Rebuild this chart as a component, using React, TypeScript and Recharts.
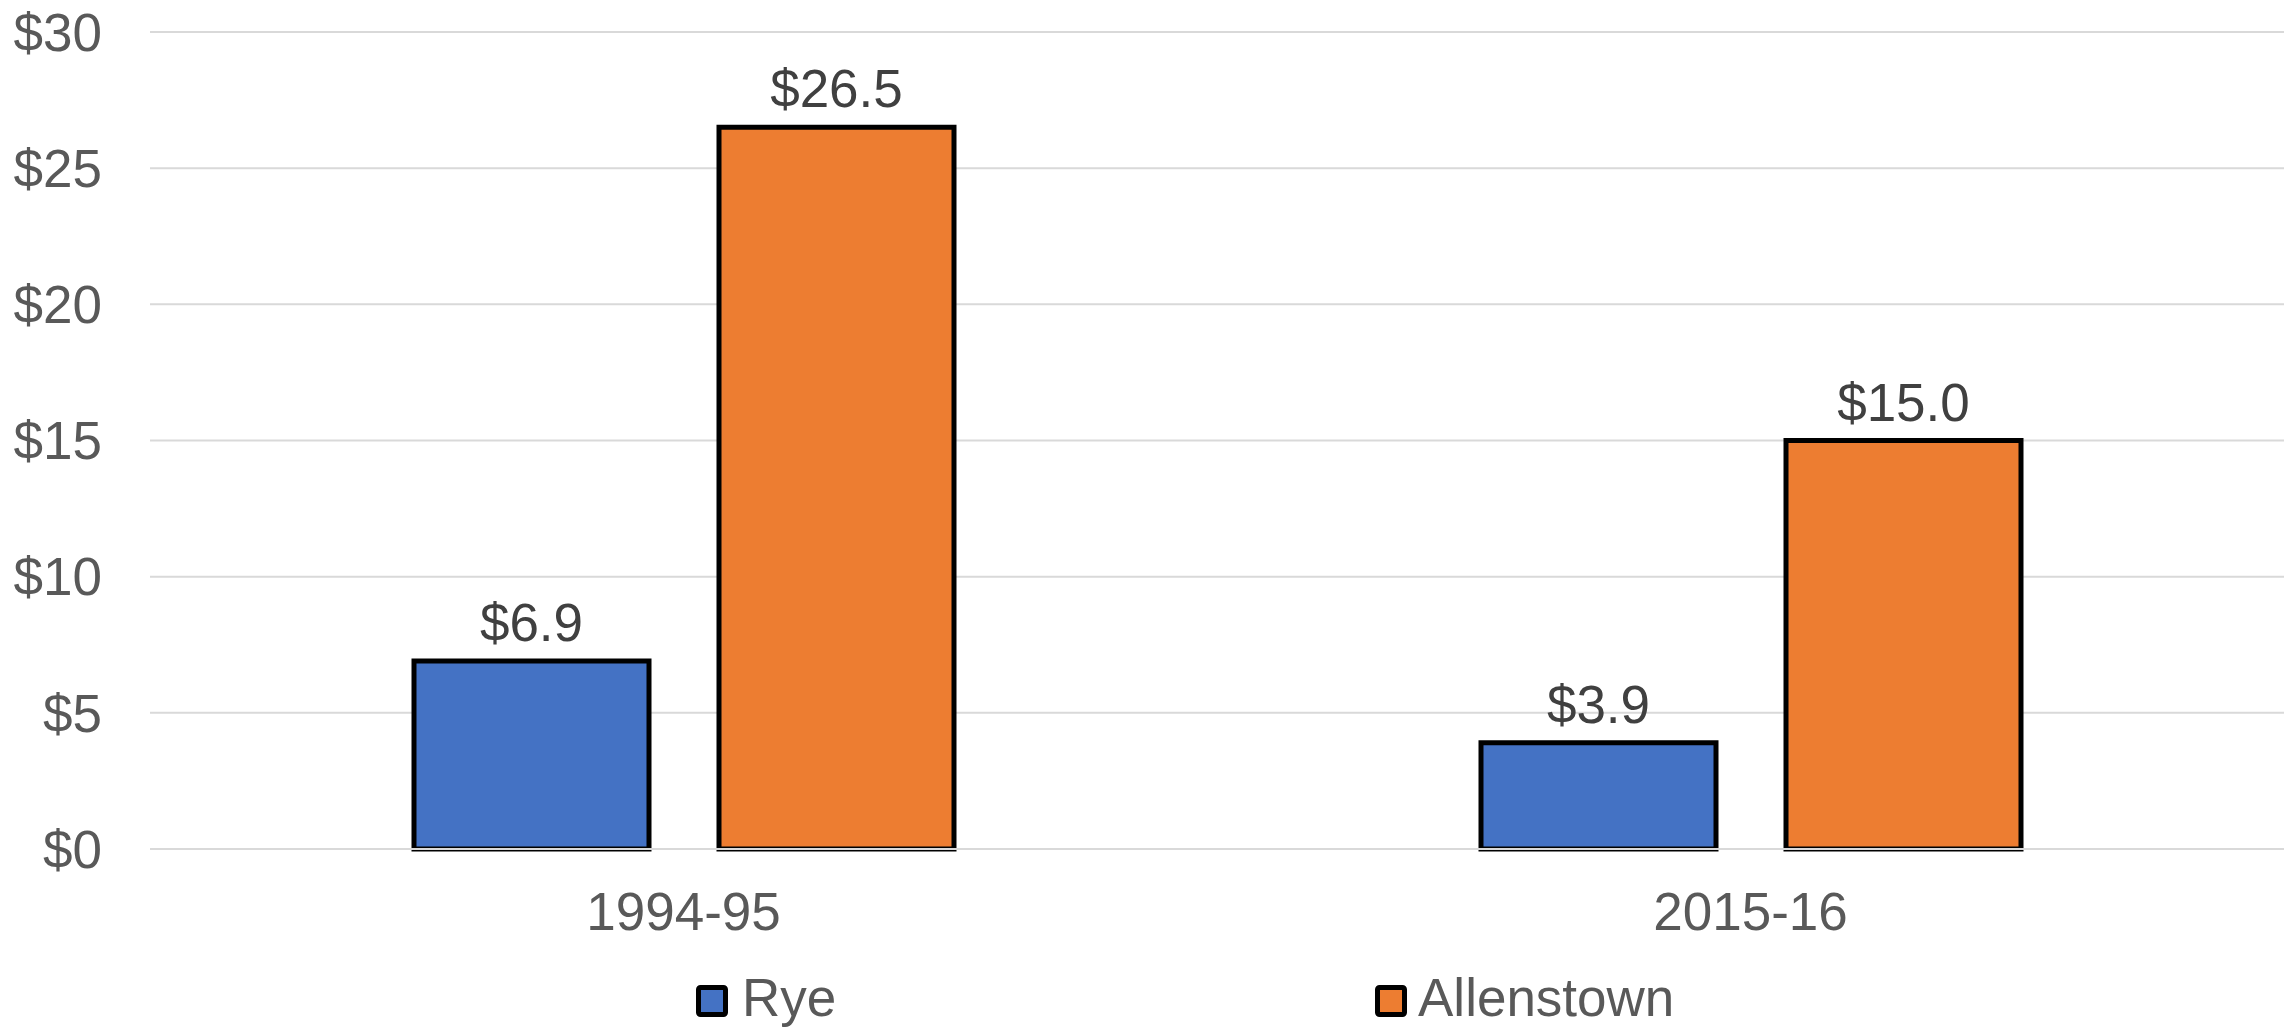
import { BarChart, Bar, XAxis, YAxis, CartesianGrid, Legend, LabelList } from "recharts"

const periods = ["1994-95", "2015-16"]
const ryeValues = [6.9, 3.9]
const allenstownValues = [26.5, 15.0]
const yTicks = [0, 5, 10, 15, 20, 25, 30]

const chartData = periods.map((period, i) => ({
  period,
  rye: ryeValues[i],
  allenstown: allenstownValues[i],
}))

const FONT = "'Liberation Sans', Arial, sans-serif"

function ChartLegend() {
  return (
    <svg width={2284} height={90} style={{ display: "block", overflow: "visible" }}>
      <rect x={698.5} y={48.5} width={27} height={27} fill="#4472C4" stroke="#000" strokeWidth={5} rx={2} />
      <text x={742} y={77} fontSize={53} fill="#595959" fontFamily={FONT}>
        Rye
      </text>
      <rect x={1377.5} y={48.5} width={27} height={27} fill="#ED7D31" stroke="#000" strokeWidth={5} rx={2} />
      <text x={1418} y={77} fontSize={53} fill="#595959" fontFamily={FONT}>
        Allenstown
      </text>
    </svg>
  )
}

export default function App() {
  return (
    <div style={{ position: "absolute", left: 0, top: 0, background: "#fff", fontFamily: FONT }}>
      <BarChart
        width={2295}
        height={1029}
        data={chartData}
        margin={{ top: 32, right: 11, left: 0, bottom: 0 }}
        barSize={235}
        barGap={70}
      >
        <CartesianGrid vertical={false} stroke="#d9d9d9" strokeWidth={2} />
        <XAxis
          dataKey="period"
          height={90}
          axisLine={{ stroke: "#d9d9d9", strokeWidth: 2 }}
          tickLine={false}
          tickSize={6}
          tickMargin={37}
          tick={{ fontSize: 53, fill: "#595959", fontFamily: FONT }}
        />
        <YAxis
          width={150}
          domain={[0, 30]}
          ticks={yTicks}
          axisLine={false}
          tickLine={false}
          tickSize={6}
          tickMargin={42}
          tickFormatter={(v: number) => `$${v}`}
          tick={{ fontSize: 53, fill: "#595959", fontFamily: FONT }}
        />
        <Legend verticalAlign="bottom" content={() => <ChartLegend />} wrapperStyle={{ left: 0, height: 90 }} />
        <Bar dataKey="rye" name="Rye" fill="#4472C4" stroke="#000" strokeWidth={5} isAnimationActive={false}>
          <LabelList
            dataKey="rye"
            position="top"
            offset={20}
            formatter={(v: number) => `$${v.toFixed(1)}`}
            style={{ fontSize: 53, fill: "#404040", fontFamily: FONT }}
          />
        </Bar>
        <Bar dataKey="allenstown" name="Allenstown" fill="#ED7D31" stroke="#000" strokeWidth={5} isAnimationActive={false}>
          <LabelList
            dataKey="allenstown"
            position="top"
            offset={20}
            formatter={(v: number) => `$${v.toFixed(1)}`}
            style={{ fontSize: 53, fill: "#404040", fontFamily: FONT }}
          />
        </Bar>
      </BarChart>
    </div>
  )
}
